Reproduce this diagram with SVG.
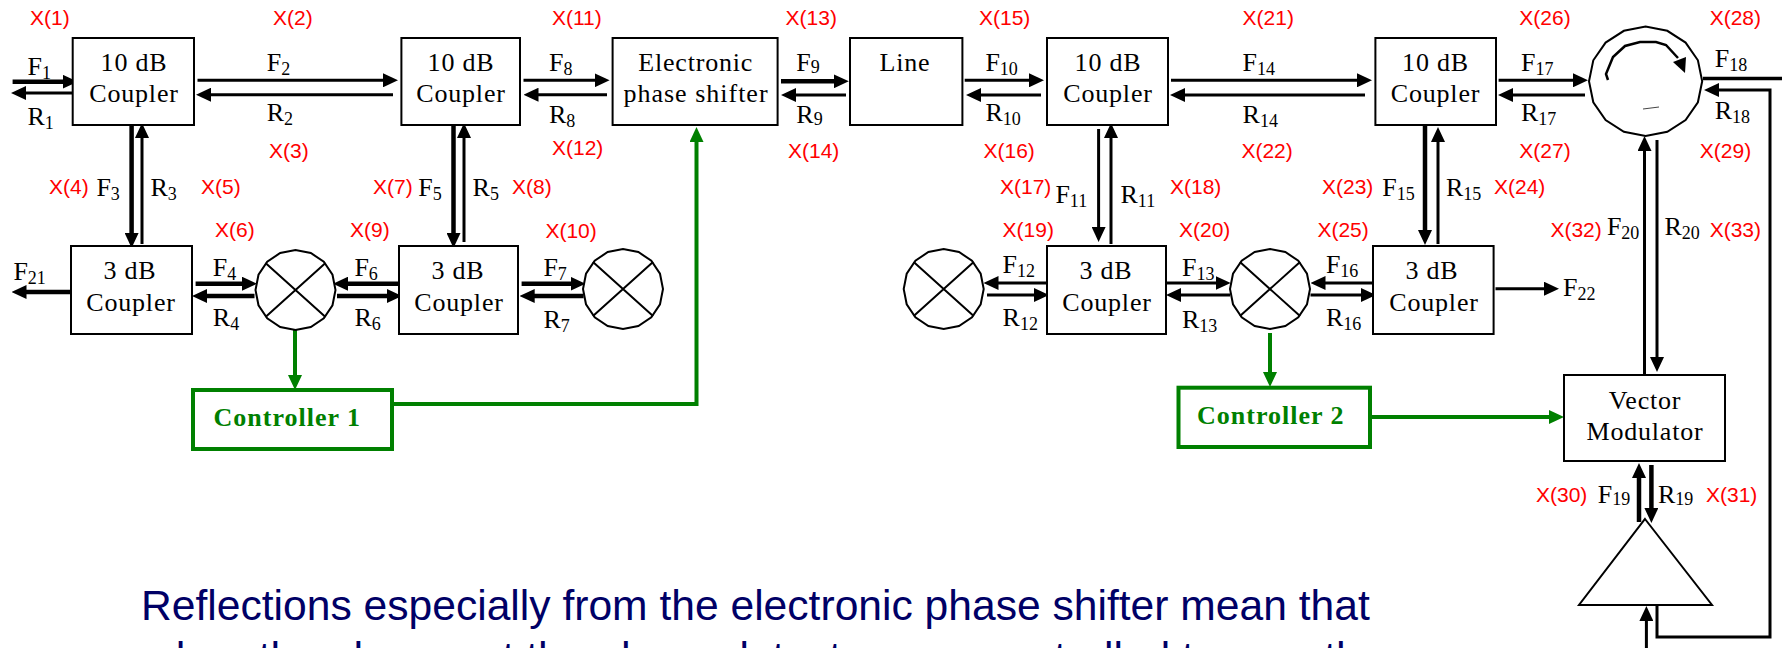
<svg xmlns="http://www.w3.org/2000/svg" width="1782" height="648" viewBox="0 0 1782 648">
<style>
text{font-family:"Liberation Serif","Times New Roman",serif;fill:#000}
.n{font-size:26px;text-anchor:middle;letter-spacing:.8px}
.l{font-size:26px}
.l tspan{font-size:18px}
.x{font-family:"Liberation Sans",Arial,sans-serif;font-size:21px;fill:#f00}
.c{font-size:26px;font-weight:bold;fill:#008000;letter-spacing:1px}
.b{font-family:"Liberation Sans",Arial,sans-serif;font-size:42.6px;fill:#000066}
.box{fill:#fff;stroke:#000;stroke-width:2}
.gbox{fill:#fff;stroke:#008000;stroke-width:4}
.shape{fill:#fff;stroke:#000;stroke-width:2}
.a{fill:none;stroke:#000;stroke-width:3;marker-end:url(#ah)}
.t{stroke-width:4.5}
.p{fill:none;stroke:#000;stroke-width:3.5}
.g{fill:none;stroke:#008000;stroke-width:4;marker-end:url(#gh)}
</style>
<defs>
<marker id="ah" markerUnits="userSpaceOnUse" markerWidth="15" markerHeight="14" viewBox="0 0 15 14" refX="5" refY="7" orient="auto"><path d="M0 0L15 7L0 14z" fill="#000"/></marker>
<marker id="gh" markerUnits="userSpaceOnUse" markerWidth="15" markerHeight="14" viewBox="0 0 15 14" refX="5" refY="7" orient="auto"><path d="M0 0L15 7L0 14z" fill="#008000"/></marker>
<g id="mixer"><polygon class="shape" points="40,0 37,15.3 28.3,28.3 15.3,37 0,40 -15.3,37 -28.3,28.3 -37,15.3 -40,0 -37,-15.3 -28.3,-28.3 -15.3,-37 0,-40 15.3,-37 28.3,-28.3 37,-15.3"/><path d="M-30-27L30 27M30-27L-30 27" stroke="#000" stroke-width="2" fill="none"/></g>
</defs>
<rect width="1782" height="648" fill="#fff"/>
<g id="connectors">
<path class="a t" d="M12.6 81.7H67.7"/><path class="a" d="M76 93H21"/>
<path class="a" d="M197.5 80.3H388"/><path class="a" d="M393 94.7H206"/>
<path class="a" d="M523.5 80.3H599.6"/><path class="a" d="M607 94.7H533.5"/>
<path class="a t" d="M781 81.3H838.8"/><path class="a" d="M846 95H791"/>
<path class="a" d="M964.7 80.3H1034"/><path class="a" d="M1041 95H976"/>
<path class="a" d="M1171 80.3H1362"/><path class="a" d="M1365 95H1180"/>
<path class="a" d="M1498.6 80.3H1578"/><path class="a" d="M1585 95H1508"/>
<path class="p" d="M1703 78.5H1782"/>
<path class="a" d="M1657 605V637H1770V90H1714"/>
<path class="a t" d="M131.6 125V238"/><path class="a" d="M142 244V133"/>
<path class="a t" d="M453.5 120.7V238"/><path class="a" d="M464 242V133"/>
<path class="a" d="M1098.6 129V232"/><path class="a" d="M1111 244V133"/>
<path class="a t" d="M1425 125V235"/><path class="a" d="M1438 244V137"/>
<path class="a" d="M1644.5 375V146"/><path class="a" d="M1657 140V362"/>
<path class="a t" d="M1639 522V473"/><path class="a t" d="M1651.4 465V513"/>
<path class="a" d="M1646.4 648V616"/>
<path class="a t" d="M76 292H21.5"/>
<path class="a t" d="M195.6 283.7H247"/><path class="a t" d="M254.5 296H202"/>
<path class="a t" d="M398 283.7H343"/><path class="a t" d="M337 296H392"/>
<path class="a t" d="M521.6 283.7H575.5"/><path class="a t" d="M583.6 296H529.7"/>
<path class="a" d="M1047 283H993.5"/><path class="a" d="M987 295H1039"/>
<path class="a" d="M1167 283H1220.7"/><path class="a" d="M1230 295H1176"/>
<path class="a" d="M1373 283H1320.5"/><path class="a" d="M1310.5 295H1366"/>
<path class="a" d="M1495.5 288.7H1549"/>
<path class="g" d="M295 326V380"/>
<path class="g" d="M392 404H696.5V137"/>
<path class="g" d="M1270 333V377"/>
<path class="g" d="M1370 417H1554"/>
</g>
<g id="coupler-a"><rect class="box" x="72.7" y="38" width="121.3" height="87"/><text class="n" x="134" y="70.7">10 dB</text><text class="n" x="134" y="101.7">Coupler</text></g>
<g id="coupler-b"><rect class="box" x="401.4" y="38" width="118.6" height="87"/><text class="n" x="461" y="70.7">10 dB</text><text class="n" x="461" y="101.7">Coupler</text></g>
<g id="coupler-c"><rect class="box" x="1047" y="38" width="121" height="87"/><text class="n" x="1108" y="70.7">10 dB</text><text class="n" x="1108" y="101.7">Coupler</text></g>
<g id="coupler-d"><rect class="box" x="1375.4" y="38" width="120.6" height="87"/><text class="n" x="1435.5" y="70.7">10 dB</text><text class="n" x="1435.5" y="101.7">Coupler</text></g>
<g id="hybrid-a"><rect class="box" x="71" y="246" width="121" height="88"/><text class="n" x="130" y="279.3">3 dB</text><text class="n" x="131" y="310.7">Coupler</text></g>
<g id="hybrid-b"><rect class="box" x="399" y="246" width="119" height="88"/><text class="n" x="458" y="279.3">3 dB</text><text class="n" x="459" y="310.7">Coupler</text></g>
<g id="hybrid-c"><rect class="box" x="1047" y="246" width="119" height="88"/><text class="n" x="1106" y="279.3">3 dB</text><text class="n" x="1107" y="310.7">Coupler</text></g>
<g id="hybrid-d"><rect class="box" x="1373" y="246" width="120.6" height="88"/><text class="n" x="1432" y="279.3">3 dB</text><text class="n" x="1434" y="310.7">Coupler</text></g>
<g id="phase-shifter"><rect class="box" x="612.6" y="38" width="165" height="87"/><text class="n" x="695.7" y="70.7">Electronic</text><text class="n" x="696" y="101.7" style="letter-spacing:1px">phase shifter</text></g>
<g id="line"><rect class="box" x="850" y="38" width="112.4" height="87"/><text class="n" x="905" y="70.7">Line</text></g>
<g id="mixer-1"><use href="#mixer" x="295.5" y="290"/></g>
<g id="mixer-2"><use href="#mixer" x="623" y="289"/></g>
<g id="mixer-3"><use href="#mixer" x="943.7" y="289"/></g>
<g id="mixer-4"><use href="#mixer" x="1270" y="289"/></g>
<g id="circulator">
<polygon class="shape" points="1702.2,81.3 1697.9,102.3 1685.6,120 1667.3,131.8 1645.6,136 1623.9,131.8 1605.6,120 1593.3,102.3 1589,81.3 1593.3,60.3 1605.6,42.6 1623.9,30.8 1645.6,26.6 1667.3,30.8 1685.6,42.6 1697.9,60.3"/>
<path d="M1608 80L1606 74L1613 57L1625 46L1640 42L1656 42L1666 45L1678 58" fill="none" stroke="#000" stroke-width="2.5"/>
<path d="M1673 62L1686 57L1685 73z" fill="#000"/>
<path d="M1643 109L1659 107" stroke="#444" stroke-width="1" fill="none"/>
</g>
<g id="controller-1"><rect class="gbox" x="193" y="390" width="199" height="59"/><text class="c" x="213.5" y="426">Controller 1</text></g>
<g id="controller-2"><rect class="gbox" x="1178.5" y="387.7" width="191.5" height="59.3"/><text class="c" x="1197" y="424">Controller 2</text></g>
<g id="vector-modulator"><rect class="box" x="1564" y="375" width="161" height="86"/><text class="n" x="1645" y="409">Vector</text><text class="n" x="1645" y="440">Modulator</text></g>
<g id="amplifier"><polygon class="shape" points="1645,519 1712,605 1579,605"/></g>
<g id="signal-labels">
<text class="l" x="27.5" y="75">F<tspan dy="4">1</tspan></text>
<text class="l" x="27.5" y="125">R<tspan dy="4">1</tspan></text>
<text class="l" x="266.7" y="70.7">F<tspan dy="4">2</tspan></text>
<text class="l" x="266.7" y="120.7">R<tspan dy="4">2</tspan></text>
<text class="l" x="549" y="70.7">F<tspan dy="4">8</tspan></text>
<text class="l" x="549" y="122.7">R<tspan dy="4">8</tspan></text>
<text class="l" x="796.3" y="70.7">F<tspan dy="2">9</tspan></text>
<text class="l" x="796.3" y="122.7">R<tspan dy="2">9</tspan></text>
<text class="l" x="985.4" y="70.7">F<tspan dy="4">10</tspan></text>
<text class="l" x="985.4" y="120.7">R<tspan dy="4">10</tspan></text>
<text class="l" x="1242.6" y="70.7">F<tspan dy="4">14</tspan></text>
<text class="l" x="1242.6" y="123.3">R<tspan dy="4">14</tspan></text>
<text class="l" x="1521" y="70.7">F<tspan dy="4">17</tspan></text>
<text class="l" x="1521" y="120.7">R<tspan dy="4">17</tspan></text>
<text class="l" x="1714.7" y="66.7">F<tspan dy="4">18</tspan></text>
<text class="l" x="1714.7" y="119.3">R<tspan dy="4">18</tspan></text>
<text class="l" x="96.4" y="196">F<tspan dy="4">3</tspan></text>
<text class="l" x="150.4" y="196">R<tspan dy="4">3</tspan></text>
<text class="l" x="418.3" y="196">F<tspan dy="4">5</tspan></text>
<text class="l" x="472.6" y="196">R<tspan dy="4">5</tspan></text>
<text class="l" x="1055.4" y="202.7">F<tspan dy="4">11</tspan></text>
<text class="l" x="1120.5" y="202.7">R<tspan dy="4">11</tspan></text>
<text class="l" x="1382.3" y="196">F<tspan dy="4">15</tspan></text>
<text class="l" x="1446" y="196">R<tspan dy="4">15</tspan></text>
<text class="l" x="1606.9" y="235">F<tspan dy="4">20</tspan></text>
<text class="l" x="1664.4" y="235">R<tspan dy="4">20</tspan></text>
<text class="l" x="13.4" y="280">F<tspan dy="4">21</tspan></text>
<text class="l" x="212.8" y="276">F<tspan dy="4">4</tspan></text>
<text class="l" x="212.8" y="326">R<tspan dy="4">4</tspan></text>
<text class="l" x="354.4" y="276">F<tspan dy="4">6</tspan></text>
<text class="l" x="354.4" y="326">R<tspan dy="4">6</tspan></text>
<text class="l" x="543.4" y="276">F<tspan dy="4">7</tspan></text>
<text class="l" x="543.4" y="328">R<tspan dy="4">7</tspan></text>
<text class="l" x="1002.6" y="273.3">F<tspan dy="4">12</tspan></text>
<text class="l" x="1002.6" y="326">R<tspan dy="4">12</tspan></text>
<text class="l" x="1182" y="276">F<tspan dy="4">13</tspan></text>
<text class="l" x="1182" y="328.3">R<tspan dy="4">13</tspan></text>
<text class="l" x="1325.9" y="273.3">F<tspan dy="4">16</tspan></text>
<text class="l" x="1325.9" y="326">R<tspan dy="4">16</tspan></text>
<text class="l" x="1563" y="296">F<tspan dy="4">22</tspan></text>
<text class="l" x="1597.7" y="502.7">F<tspan dy="2">19</tspan></text>
<text class="l" x="1658" y="502.7">R<tspan dy="2">19</tspan></text>
</g>
<g id="x-labels">
<text class="x" x="30" y="25">X(1)</text>
<text class="x" x="273" y="25">X(2)</text>
<text class="x" x="269" y="157.5">X(3)</text>
<text class="x" x="49" y="194">X(4)</text>
<text class="x" x="201" y="194">X(5)</text>
<text class="x" x="215" y="236.7">X(6)</text>
<text class="x" x="373" y="194">X(7)</text>
<text class="x" x="512" y="194">X(8)</text>
<text class="x" x="350" y="236.7">X(9)</text>
<text class="x" x="545.4" y="237.5">X(10)</text>
<text class="x" x="552" y="25">X(11)</text>
<text class="x" x="552" y="155">X(12)</text>
<text class="x" x="785.6" y="25">X(13)</text>
<text class="x" x="788" y="157.5">X(14)</text>
<text class="x" x="979" y="25">X(15)</text>
<text class="x" x="983.5" y="157.5">X(16)</text>
<text class="x" x="1000" y="194">X(17)</text>
<text class="x" x="1170" y="194">X(18)</text>
<text class="x" x="1002.6" y="236.7">X(19)</text>
<text class="x" x="1179" y="236.7">X(20)</text>
<text class="x" x="1242.6" y="25">X(21)</text>
<text class="x" x="1241.4" y="157.5">X(22)</text>
<text class="x" x="1322" y="194">X(23)</text>
<text class="x" x="1494" y="194">X(24)</text>
<text class="x" x="1317.4" y="236.7">X(25)</text>
<text class="x" x="1519.3" y="25">X(26)</text>
<text class="x" x="1519.3" y="157.5">X(27)</text>
<text class="x" x="1709.7" y="25">X(28)</text>
<text class="x" x="1699.8" y="157.5">X(29)</text>
<text class="x" x="1536" y="502.3">X(30)</text>
<text class="x" x="1706" y="502.3">X(31)</text>
<text class="x" x="1550.4" y="236.7">X(32)</text>
<text class="x" x="1709.7" y="236.7">X(33)</text>
</g>
<g id="caption">
<text class="b" x="141" y="620">Reflections especially from the electronic phase shifter mean that</text>
<text class="b" x="145" y="672">when the phases at the phase detectors are controlled to zero the</text>
</g>
</svg>
